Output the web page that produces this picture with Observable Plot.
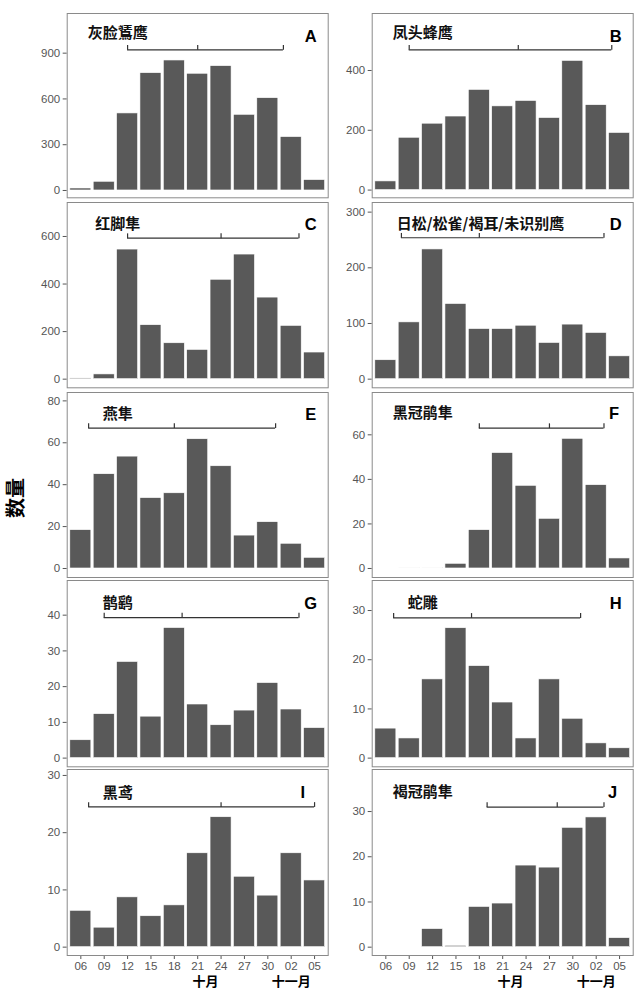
<!DOCTYPE html>
<html><head><meta charset="utf-8">
<script src="https://cdn.jsdelivr.net/npm/d3@7"></script>
<script src="https://cdn.jsdelivr.net/npm/@observablehq/plot@0.6"></script>
<style>
body{margin:0;background:#fff;}
#wrap{position:relative;width:641px;height:997px;overflow:hidden;font-family:"Liberation Sans",Arial,sans-serif;}
.panel{position:absolute;}
#ylab{position:absolute;left:-5px;top:488px;width:40px;height:20px;line-height:20px;text-align:center;transform:rotate(-90deg);font-family:"Noto Sans CJK SC",sans-serif;font-weight:700;font-size:20px;color:#000;}
</style>
</head><body><div id="wrap"><div id="ylab">数量</div></div>
<script>
// ---- data ----
const dayLabels = ["06","09","12","15","18","21","24","27","30","02","05"];
const days = [0,3,6,9,12,15,18,21,24,27,30];
const monthLabels = ["十月","十一月"];
const monthDays = [16,27];
const letters = ["A","B","C","D","E","F","G","H","I","J"];
const species = ["灰脸鵟鹰","凤头蜂鹰","红脚隼","日松/松雀/褐耳/未识别鹰","燕隼","黑冠鹃隼","鹊鹞","蛇雕","黑鸢","褐冠鹃隼"];

const countsA = [13, 57, 505, 769, 852, 765, 815, 496, 605, 350, 68];
const countsB = [29, 175, 222, 246, 335, 280, 298, 241, 432, 284, 191];
const countsC = [3, 20, 545, 227, 151, 123, 418, 524, 343, 224, 112];
const countsD = [34, 102, 233, 135, 90, 90, 96, 65, 98, 83, 41];
const countsE = [18.3, 45, 53.4, 33.6, 35.9, 61.7, 48.8, 15.7, 22.1, 11.8, 5.1];
const countsF = [0, 0.2, 0.2, 2.1, 17.2, 51.8, 37.1, 22.3, 58.2, 37.4, 4.5];
const countsG = [5.0, 12.3, 26.9, 11.6, 36.4, 15.0, 9.2, 13.3, 21.0, 13.6, 8.4];
const countsH = [6, 4, 16, 26.4, 18.7, 11.3, 4, 16, 8, 3, 2];
const countsI = [6.35, 3.4, 8.7, 5.4, 7.3, 16.4, 22.7, 12.3, 9.0, 16.4, 11.65];
const countsJ = [0, 0, 4.0, 0.3, 8.9, 9.65, 18.05, 17.6, 26.4, 28.7, 2.0];
const allCounts = [countsA, countsB, countsC, countsD, countsE, countsF, countsG, countsH, countsI, countsJ];

// passage window (days after 06): start, median, end; and level in count units
const bracketStart = [6, 3, 6, 2, 1, 12, 3, 1, 1, 13];
const bracketMid   = [15, 17, 18, 12, 12, 21, 13, 11, 18, 22];
const bracketEnd   = [26, 29, 28, 28, 25, 28, 28, 25, 30, 28];
const bracketLevel = [922, 469, 593, 254, 67, 63, 39.3, 28.5, 24.5, 31];

const yTicks = [
  [0,300,600,900],[0,200,400],[0,200,400,600],[0,100,200,300],[0,20,40,60,80],
  [0,20,40,60],[0,10,20,30,40],[0,10,20,30],[0,10,20,30],[0,10,20,30]
];

// ---- layout / scale config ----
const yDomains = [[-48,1160],[-25.8,590.6],[-36.3,742.9],[-15.5,317.3],[-4.3,84],
  [-4.05,79],[-2.43,49.7],[-1.76,36.1],[-1.46,31.04],[-1.84,39.3]];
const titleX = [4.75,4.75,4.75,12.15,4.75,4.75,4.75,4.75,4.75,4.75];
const titleDy = [14,14,16,15.4,16,15,17,17,17.5,16.7];
const letterX = [29.5,29.5,29.5,29.5,29.5,29.3,29.5,29.5,28.5,29.1];
const letterDy = [16.8,16.3,15.6,15.6,16,15.2,17,17,16.7,16.7];
const rowTop = [12.7, 202, 391.7, 579.7, 769];
const rowH = [184.3, 185.3, 185, 186.3, 186];
const colLeft = [0, 320], colWidth = [330, 321], colMarginLeft = [66.7, 51.7], colMarginRight = [2.3, 8.3];

const tickUp = {draw(ctx) { ctx.moveTo(0, 0); ctx.lineTo(0, -4.8); }};

const wrap = document.getElementById("wrap");
for (let p = 0; p < 10; p++) {
  const row = Math.floor(p / 2), col = p % 2;
  const bottom = row === 4;
  const counts = allCounts[p];
  const bars = days.map((d, i) => ({day: d, n: counts[i]}));
  const br = [{a: bracketStart[p], m: bracketMid[p], b: bracketEnd[p], y: bracketLevel[p]}];
  const brTicks = [bracketStart[p], bracketMid[p], bracketEnd[p]].map(d => ({d, y: bracketLevel[p]}));
  const mt = 3, mb = bottom ? 45 : 3;
  const marks = [
    Plot.rectY(bars, {x1: d => d.day - 1.35, x2: d => d.day + 1.35, y: "n", fill: "#595959", stroke: "white", strokeWidth: 0.6}),
    Plot.ruleY(br, {x1: "a", x2: "b", y: "y", stroke: "#333", strokeWidth: 1.2}),
    Plot.dot(brTicks, {x: "d", y: "y", symbol: tickUp, fill: "none", stroke: "#333", strokeWidth: 1.2, r: 3}),
    Plot.text([species[p]], {x: () => titleX[p], frameAnchor: "top", dy: titleDy[p], text: d => d, fontSize: 15, fontWeight: "bold", fill: "#111", fontFamily: "'Noto Sans CJK SC', sans-serif"}),
    Plot.text([letters[p]], {x: () => letterX[p], frameAnchor: "top", dy: letterDy[p], text: d => d, fontSize: 16.5, fontWeight: "bold", fill: "#000", fontFamily: "'Liberation Sans', Arial, sans-serif"}),
    Plot.frame({stroke: "#8a8a8a", strokeWidth: 1})
  ];
  if (bottom) {
    marks.push(Plot.text(monthLabels, {x: (d, i) => monthDays[i], frameAnchor: "bottom", dy: 30, text: d => d, fontSize: 13, fontWeight: "bold", fill: "#000", fontFamily: "'Noto Sans CJK SC', sans-serif"}));
  }
  const chart = Plot.plot({
    width: colWidth[col],
    height: rowH[row] + mt + mb,
    marginLeft: colMarginLeft[col],
    marginRight: colMarginRight[col],
    marginTop: mt,
    marginBottom: mb,
    style: {background: "transparent", color: "#555", fontSize: "11.5px", fontFamily: "'Liberation Sans', Arial, sans-serif", overflow: "visible"},
    x: {domain: [-1.75, 31.75], ticks: days, tickFormat: (d) => dayLabels[days.indexOf(d)], tickSize: 4, tickPadding: 2, label: null, axis: bottom ? "bottom" : null},
    y: {domain: yDomains[p], ticks: yTicks[p], tickSize: 4, tickPadding: 3, label: null},
    marks
  });
  const div = document.createElement("div");
  div.className = "panel";
  div.style.left = colLeft[col] + "px";
  div.style.top = (rowTop[row] - mt) + "px";
  div.style.width = colWidth[col] + "px";
  div.appendChild(chart);
  wrap.appendChild(div);
}
</script>
</body></html>
